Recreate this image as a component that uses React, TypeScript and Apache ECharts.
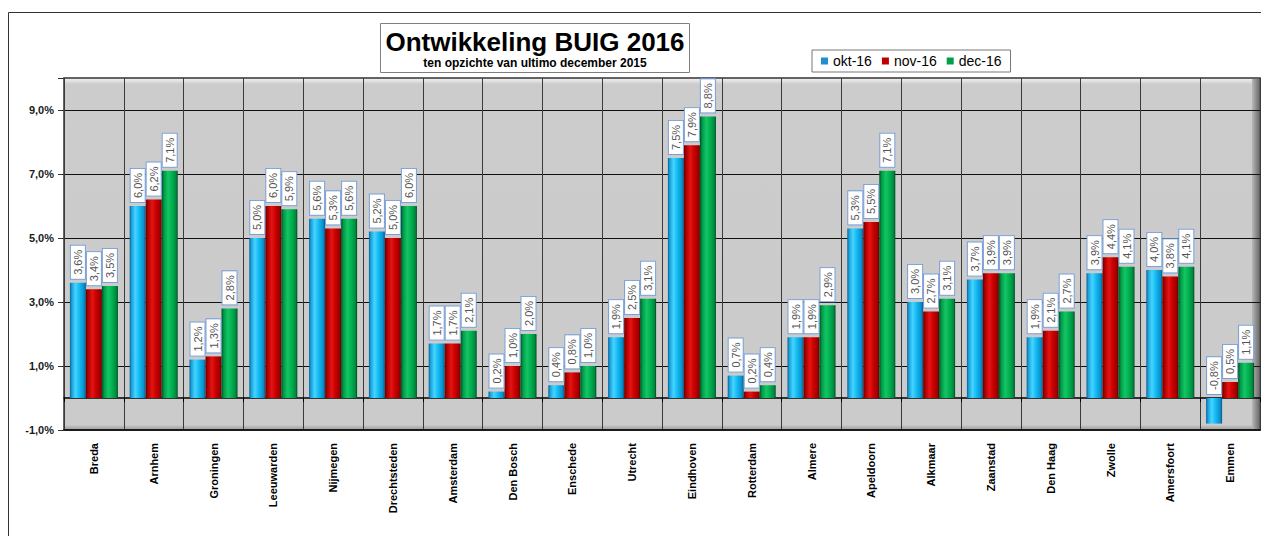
import React, { useEffect, useRef } from "react";
import * as echarts from "echarts";

const categories = [
  "Breda", "Arnhem", "Groningen", "Leeuwarden", "Nijmegen", "Drechtsteden",
  "Amsterdam", "Den Bosch", "Enschede", "Utrecht", "Eindhoven", "Rotterdam",
  "Almere", "Apeldoorn", "Alkmaar", "Zaanstad", "Den Haag", "Zwolle",
  "Amersfoort", "Emmen",
];
const okt16 = [3.6, 6.0, 1.2, 5.0, 5.6, 5.2, 1.7, 0.2, 0.4, 1.9, 7.5, 0.7, 1.9, 5.3, 3.0, 3.7, 1.9, 3.9, 4.0, -0.8];
const nov16 = [3.4, 6.2, 1.3, 6.0, 5.3, 5.0, 1.7, 1.0, 0.8, 2.5, 7.9, 0.2, 1.9, 5.5, 2.7, 3.9, 2.1, 4.4, 3.8, 0.5];
const dec16 = [3.5, 7.1, 2.8, 5.9, 5.6, 6.0, 2.1, 2.0, 1.0, 3.1, 8.8, 0.4, 2.9, 7.1, 3.1, 3.9, 2.7, 4.1, 4.1, 1.1];
const seriesNames = ["okt-16", "nov-16", "dec-16"];
// tick labels on the left: -1,0% ... 9,0% (odd values)
const yTickValues = [-1, 1, 3, 5, 7, 9];

const FONT = 'Arial, "Liberation Sans", sans-serif';

const fmt = (v: number) => v.toFixed(1).replace(".", ",") + "%";

const grad = (stops: [number, string][]) =>
  new echarts.graphic.LinearGradient(0, 0, 1, 0, stops.map(([offset, color]) => ({ offset, color })));

const colors = [
  grad([[0, "#0a5f92"], [0.12, "#1aa2dc"], [0.35, "#46d4ff"], [0.6, "#12b9f2"], [0.88, "#0a8fcb"], [1, "#0a557f"]]),
  grad([[0, "#6a0000"], [0.15, "#b00000"], [0.4, "#e41414"], [0.65, "#c80000"], [0.9, "#9c0000"], [1, "#5a0000"]]),
  grad([[0, "#00502a"], [0.15, "#009c46"], [0.4, "#14c465"], [0.65, "#00b050"], [0.9, "#00883c"], [1, "#004520"]]),
];
const legendColors = ["#1f8fd0", "#c00000", "#00a04a"];

export default function App() {
  const ref = useRef<HTMLDivElement>(null);
  useEffect(() => {
    if (!ref.current) return;
    const chart = echarts.init(ref.current, undefined, { renderer: "svg" });
    const data = [okt16, nov16, dec16];
    const option: any = {
      animation: false,
      backgroundColor: "#ffffff",
      textStyle: { fontFamily: FONT },
      legend: {
        left: 812,
        top: 50,
        backgroundColor: "#ffffff",
        borderColor: "#777777",
        borderWidth: 1,
        padding: [4, 9, 4, 9],
        itemGap: 10,
        itemWidth: 7,
        itemHeight: 7,
        icon: "rect",
        textStyle: { fontSize: 14, color: "#000", fontFamily: FONT },
        data: seriesNames.map((n, i) => ({ name: n, itemStyle: { color: legendColors[i] } })),
      },
      grid: { left: 64, right: 1, top: 78, bottom: 106, outerBoundsMode: "none", containLabel: false },
      graphic: [
        {
          type: "rect", z: -20, silent: true,
          shape: { x: 8.5, y: 12.5, width: 1400, height: 700 },
          style: { fill: "#ffffff", stroke: "#333333", lineWidth: 1 },
        },
        {
          type: "rect", z: -10, silent: true,
          shape: { x: 64, y: 78, width: 1196, height: 352 },
          style: {
            fill: new echarts.graphic.LinearGradient(0, 0, 0, 1, [
              { offset: 0, color: "#f4f4f4" },
              { offset: 0.018, color: "#cccccc" },
              { offset: 0.985, color: "#cbcbcb" },
              { offset: 1, color: "#9a9a9a" },
            ]),
            stroke: "#333333", lineWidth: 1.5,
          },
        },
        {
          type: "rect", z: -9, silent: true,
          shape: { x: 1252, y: 79, width: 7.5, height: 350 },
          style: {
            fill: new echarts.graphic.LinearGradient(0, 0, 1, 0, [
              { offset: 0, color: "#b8b8b8" },
              { offset: 1, color: "#6a6a6a" },
            ]),
          },
        },
        {
          type: "group",
          left: 380,
          top: 23,
          children: [
            {
              type: "rect",
              shape: { x: 0.5, y: 0.5, width: 309, height: 49 },
              style: { fill: "#ffffff", stroke: "#7f7f7f", lineWidth: 1 },
            },
            {
              type: "text",
              x: 155, y: 19,
              style: {
                text: "Ontwikkeling BUIG 2016",
                font: `bold 26px ${FONT}`,
                fill: "#000",
                align: "center",
                verticalAlign: "middle",
              },
            },
            {
              type: "text",
              x: 155, y: 40,
              style: {
                text: "ten opzichte van ultimo december 2015",
                font: `bold 12px ${FONT}`,
                fill: "#000",
                align: "center",
                verticalAlign: "middle",
              },
            },
          ],
        },
      ],
      xAxis: [
        {
          type: "category",
          data: categories,
          position: "bottom",
          axisLine: { onZero: false, lineStyle: { color: "#1a1a1a", width: 2 } },
          axisTick: { show: false },
          axisLabel: {
            interval: 0,
            rotate: 90,
            margin: 13,
            fontSize: 11,
            fontWeight: "bold",
            color: "#000",
            fontFamily: FONT,
          },
          splitLine: { show: true, interval: 0, lineStyle: { color: "#3a3a3a", width: 1 } },
        },
        {
          type: "category",
          data: categories,
          position: "bottom",
          axisLine: { onZero: true, onZeroAxisIndex: 0, lineStyle: { color: "#000", width: 1.5 } },
          axisTick: { show: true, interval: 0, length: 4, lineStyle: { color: "#000" } },
          axisLabel: { show: false },
          splitLine: { show: false },
        },
      ],
      yAxis: [
        { type: "value", min: -1, max: 10, show: false, splitLine: { show: false } },
        {
          // label axis: value v corresponds to (v - 1) percent on the data axis
          type: "value",
          position: "left",
          min: yTickValues[0] + 1,
          max: 11,
          interval: 2,
          axisLine: { show: false },
          axisTick: { show: true, length: 6, lineStyle: { color: "#333" } },
          axisLabel: {
            margin: 10,
            fontSize: 11,
            fontWeight: "bold",
            color: "#1a1a1a",
            fontFamily: FONT,
            formatter: (v: number) => (yTickValues.indexOf(v - 1) >= 0 ? fmt(v - 1) : ""),
          },
          splitLine: { show: true, showMinLine: false, showMaxLine: false, lineStyle: { color: "#111", width: 1 } },
        },
      ],
      series: seriesNames.map((name, i) => ({
        name,
        type: "bar",
        xAxisIndex: 0,
        yAxisIndex: 0,
        data: data[i],
        barWidth: 16,
        barGap: "0%",
        itemStyle: { color: colors[i] },
        label: {
          show: true,
          position: "top",
          distance: 4,
          rotate: 90,
          align: "left",
          verticalAlign: "middle",
          formatter: (p: any) => fmt(p.value),
          fontSize: 11,
          color: "#555555",
          fontFamily: FONT,
          backgroundColor: "#ffffff",
          borderColor: "#7aa0d8",
          borderWidth: 1,
          padding: [2, 4, 1, 4],
        },
      })),
    };
    chart.setOption(option);
    return () => chart.dispose();
  }, []);
  return (
    <div
      ref={ref}
      style={{ position: "fixed", left: 0, top: 0, width: 1261, height: 536 }}
    />
  );
}
